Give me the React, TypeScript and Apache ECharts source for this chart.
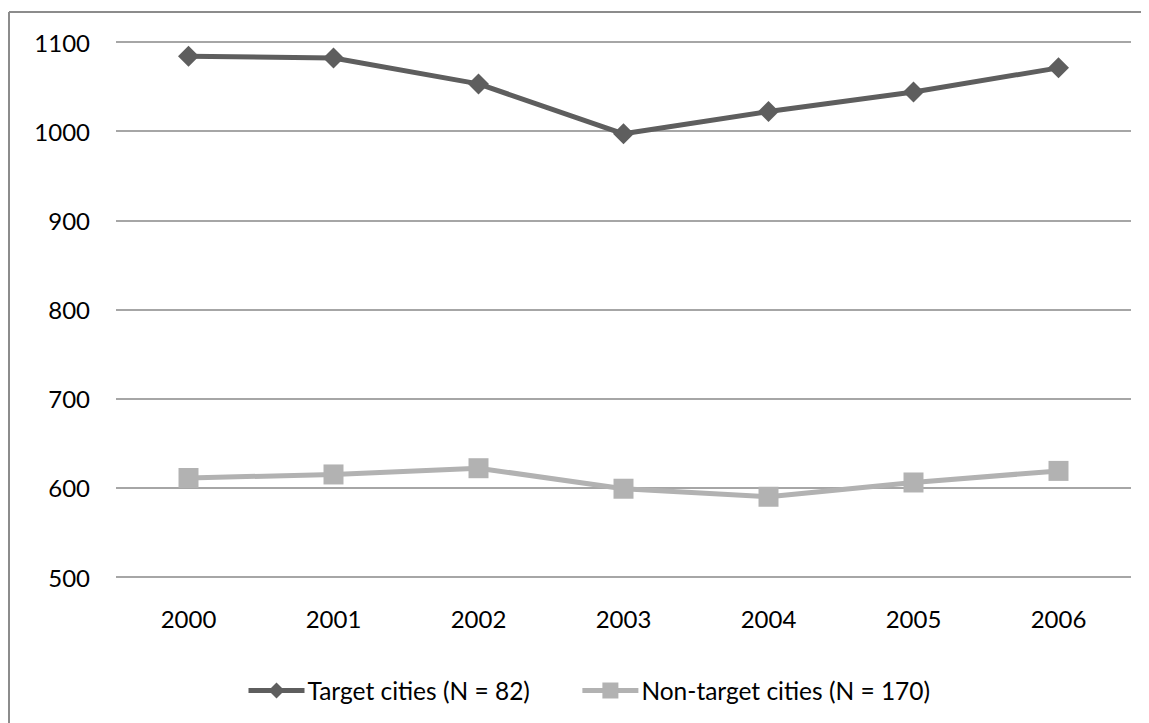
import React, { useEffect, useRef } from "react";
import * as echarts from "echarts";

const years = ["2000", "2001", "2002", "2003", "2004", "2005", "2006"];
const targetCities = [1084, 1082, 1053, 997, 1022, 1044, 1071];
const nonTargetCities = [611, 615, 622, 599, 590, 606, 619];
const seriesNames = ["Target cities (N = 82)", "Non-target cities (N = 170)"];

const FONT = "Lato";
const DARK = "#5e5e5e";
const LIGHT = "#b2b2b2";

const W = 1200;
const H = 760;

export default function App() {
  const ref = useRef<HTMLDivElement>(null);
  useEffect(() => {
    if (!ref.current) return;
    document.documentElement.style.overflow = "hidden";
    document.body.style.overflow = "hidden";
    const chart = echarts.init(ref.current, undefined, { renderer: "svg" });
    chart.setOption({
      animation: false,
      backgroundColor: "#ffffff",
      textStyle: { fontFamily: FONT },
      graphic: [
        {
          type: "line",
          shape: { x1: 1, y1: 4, x2: W, y2: 4 },
          style: { stroke: "#8c8c8c", lineWidth: 2 },
          silent: true,
        },
        {
          type: "line",
          shape: { x1: 1, y1: 4, x2: 1, y2: H },
          style: { stroke: "#8c8c8c", lineWidth: 2 },
          silent: true,
        },
      ],
      grid: { left: 108, width: 1015, top: 34, height: 535, containLabel: false },
      legend: {
        top: 665,
        left: 233,
        itemWidth: 56,
        itemHeight: 20,
        itemGap: 50,
        textStyle: { fontFamily: FONT, fontSize: 24.5, color: "#000", padding: [0, 0, 0, -2] },
        data: [
          { name: seriesNames[0], lineStyle: { width: 5, color: DARK } },
          { name: seriesNames[1], lineStyle: { width: 5, color: LIGHT } },
        ],
      },
      xAxis: {
        type: "category",
        data: years,
        boundaryGap: true,
        axisLine: { show: false },
        axisTick: { show: false },
        axisLabel: { fontFamily: FONT, fontSize: 24, color: "#000", margin: 29 },
      },
      yAxis: {
        type: "value",
        min: 500,
        max: 1100,
        interval: 100,
        axisLine: { show: false },
        axisTick: { show: false },
        axisLabel: {
          fontFamily: FONT,
          fontSize: 24,
          color: "#000",
          margin: 26,
          formatter: (v: number) => String(v),
        },
        splitLine: { lineStyle: { color: "#888888", width: 1.5 } },
      },
      series: [
        {
          name: seriesNames[0],
          type: "line",
          data: targetCities,
          symbol: "diamond",
          symbolSize: 21,
          lineStyle: { color: DARK, width: 5 },
          itemStyle: { color: DARK },
          z: 3,
        },
        {
          name: seriesNames[1],
          type: "line",
          data: nonTargetCities,
          symbol: "rect",
          symbolSize: 20,
          lineStyle: { color: LIGHT, width: 5 },
          itemStyle: { color: LIGHT },
          z: 2,
        },
      ],
    });
    return () => chart.dispose();
  }, []);
  return <div ref={ref} style={{ width: W, height: H }} />;
}
